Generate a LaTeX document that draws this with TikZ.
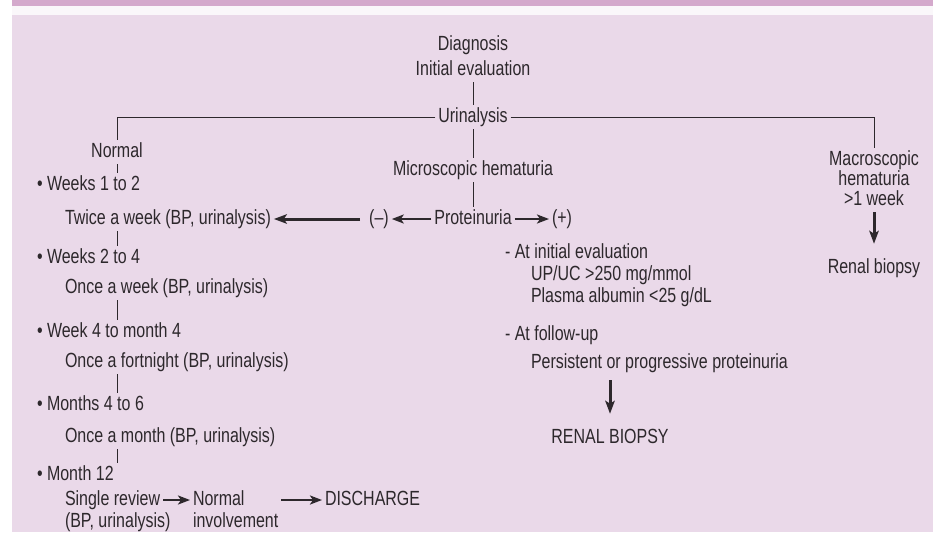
\documentclass[tikz,border=0pt]{standalone}
\usepackage{fontspec}
\setmainfont[FakeStretch=0.78]{Liberation Sans}
\usetikzlibrary{arrows.meta}
\definecolor{band}{RGB}{212,169,204}
\definecolor{panel}{RGB}{234,217,233}
\definecolor{strip}{RGB}{250,247,250}
\definecolor{ink}{RGB}{45,40,44}
\begin{document}
\begin{tikzpicture}[x=1pt,y=-1pt,
  lbl/.style={font=\fontsize{20.5}{22}\selectfont, text=ink, inner sep=0pt, outer sep=3pt, text height=14.5pt, text depth=4pt},
  lt/.style={lbl, anchor=west},
  conn/.style={draw=ink, line width=0.9pt},
  bigarrow/.style={draw=ink, line width=3pt, -{Stealth[length=13pt,width=9.5pt,inset=3pt]}},
  smallarrow/.style={draw=ink, line width=2.8pt, -{Stealth[length=12pt,width=9pt,inset=3pt]}}
]
\useasboundingbox (0,0) rectangle (941,532);
% background
\fill[white] (0,0) rectangle (941,532);
\fill[band] (12,0) rectangle (933,6);
\fill[strip] (12,6) rectangle (933,15);
\fill[panel] (12,15) rectangle (933,532);

% centre column
\node[lbl] (diag) at (473,45) {Diagnosis};
\node[lbl] (init) at (473,70) {Initial evaluation};
\node[lbl] (uri) at (473,117) {Urinalysis};
\node[lbl] (micro) at (473,170) {Microscopic hematuria};
\node[lbl] (prot) at (473,219) {Proteinuria};
\node[lbl] (neg) at (379,219) {(–)};
\node[lbl] (pos) at (562,219) {(+)};

% left column
\node[lbl] (normal) at (117,152) {Normal};
\node[lt] (w1) at (34,185) {• Weeks 1 to 2};
\node[lt] (d1) at (62,219) {Twice a week (BP, urinalysis)};
\node[lt] (w2) at (34,258) {• Weeks 2 to 4};
\node[lt] (d2) at (62,288) {Once a week (BP, urinalysis)};
\node[lt] (w3) at (34,332) {• Week 4 to month 4};
\node[lt] (d3) at (62,362) {Once a fortnight (BP, urinalysis)};
\node[lt] (w4) at (34,405) {• Months 4 to 6};
\node[lt] (d4) at (62,437) {Once a month (BP, urinalysis)};
\node[lt] (w5) at (34,475) {• Month 12};
\node[lt] (sr) at (62,500) {Single review};
\node[lt] (bp) at (62,522) {(BP, urinalysis)};
\node[lt] (nm) at (190,500) {Normal};
\node[lt] (inv) at (190,522) {involvement};
\node[lt] (dis) at (322,500) {DISCHARGE};

% right column
\node[lbl] (mac1) at (874,160) {Macroscopic};
\node[lbl] (mac2) at (874,180) {hematuria};
\node[lbl] (mac3) at (874,200) {>1 week};
\node[lbl] (rb) at (874,268) {Renal biopsy};

% proteinuria positive branch
\node[lt] (ai) at (502,253) {- At initial evaluation};
\node[lt] (up) at (528,275) {UP/UC >250 mg/mmol};
\node[lt] (pa) at (528,297) {Plasma albumin <25 g/dL};
\node[lt] (af) at (502,335) {- At follow-up};
\node[lt] (pp) at (528,363) {Persistent or progressive proteinuria};
\node[lbl] (RB) at (610,438) {RENAL BIOPSY};

% connectors
\draw[conn] (init.south) -- (uri.north);
\draw[conn] (uri.south) -- (micro.north);
\draw[conn] (micro.south) -- (prot.north);
\draw[conn] (uri.west) -| (normal.north);
\draw[conn] (uri.east) -| (mac1.north);
\draw[conn] (normal.south) -- (w1.north -| normal.south);
\draw[conn] (d1.south -| normal.south) -- (w2.north -| normal.south);
\draw[conn] (d2.south -| normal.south) -- (w3.north -| normal.south);
\draw[conn] (d3.south -| normal.south) -- (w4.north -| normal.south);
\draw[conn] (d4.south -| normal.south) -- (w5.north -| normal.south);

\draw[smallarrow] (prot.west) -- (neg.east);
\draw[bigarrow, shorten <=6pt] (neg.west) -- (d1.east);
\draw[smallarrow] (prot.east) -- (pos.west);
\draw[smallarrow] (sr.east) -- (nm.west);
\draw[smallarrow] (inv.east |- nm.west) -- (dis.west);
\draw[bigarrow, shorten >=12pt] (mac3.south) -- (rb.north);
\draw[bigarrow, shorten <=5pt, shorten >=12pt] (pp.south -| RB.north) -- (RB.north);
\end{tikzpicture}
\end{document}
